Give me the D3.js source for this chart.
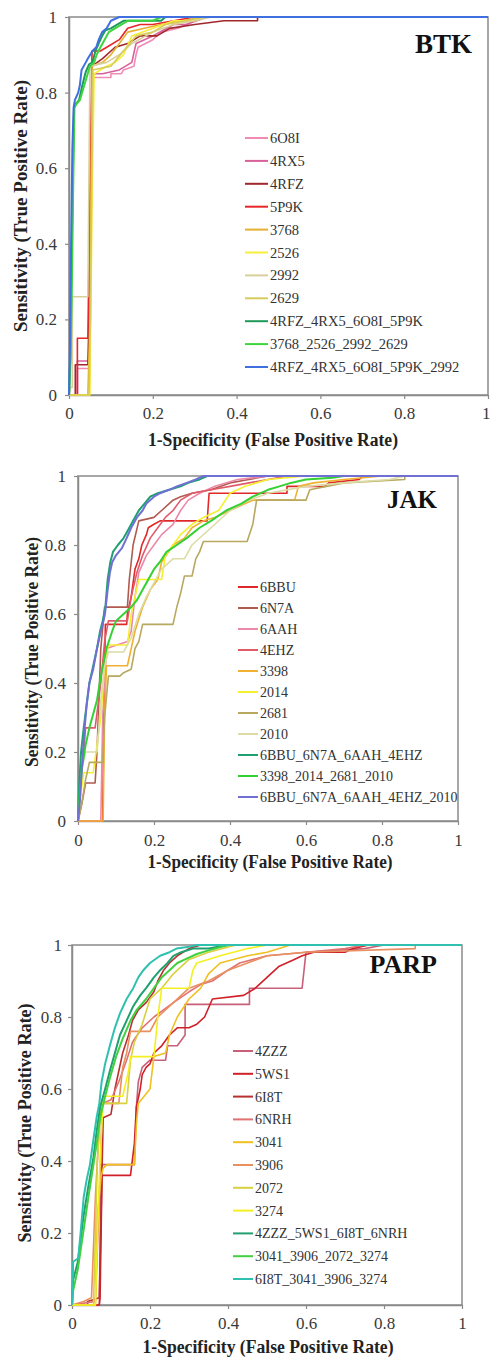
<!DOCTYPE html>
<html><head><meta charset="utf-8">
<script src="https://cdn.jsdelivr.net/npm/d3@7"></script>
<style>
html,body{margin:0;padding:0;background:#fff;}
svg{display:block;}
text{font-family:"Liberation Serif","Times New Roman",serif;}
</style></head><body>
<svg id="chart" width="490" height="1357"></svg>
<script>
// ---------- tick labels ----------
const tickValues = [0, 0.2, 0.4, 0.6, 0.8, 1];
const tickLabels = ["0", "0.2", "0.4", "0.6", "0.8", "1"];
const xTitle = "1-Specificity (False Positive Rate)";
const yTitle = "Sensitivity (True Positive Rate)";

// ---------- BTK ----------
const btkNames = ["6O8I","4RX5","4RFZ","5P9K","3768","2526","2992","2629","4RFZ_4RX5_6O8I_5P9K","3768_2526_2992_2629","4RFZ_4RX5_6O8I_5P9K_2992"];
const btkColors = ["#f08cb4","#d9609a","#a0282d","#e8262a","#e6b030","#f8ee3a","#d8d09a","#d6cc5a","#1e9a5a","#3ed43e","#4070e0"];
const btk_6O8I = [[0,0],[0.02,0],[0.02,0.07],[0.05,0.07],[0.055,0.84],[0.1,0.84],[0.1,0.85],[0.125,0.85],[0.13,0.86],[0.155,0.87],[0.16,0.9],[0.165,0.92],[0.2,0.94],[0.22,0.96],[0.26,0.97],[0.3,0.99],[0.32,1],[1,1]];
const btk_4RX5 = [[0,0],[0.02,0],[0.02,0.09],[0.05,0.09],[0.056,0.85],[0.08,0.85],[0.12,0.86],[0.15,0.88],[0.16,0.93],[0.2,0.95],[0.25,0.98],[0.28,0.98],[0.33,1],[1,1]];
const btk_4RFZ = [[0,0],[0.015,0],[0.015,0.08],[0.045,0.08],[0.05,0.3],[0.055,0.87],[0.08,0.89],[0.11,0.92],[0.14,0.93],[0.17,0.95],[0.21,0.95],[0.24,0.97],[0.3,0.98],[0.37,0.99],[0.45,0.99],[0.45,1],[1,1]];
const btk_5P9K = [[0,0],[0.02,0],[0.02,0.15],[0.045,0.15],[0.055,0.91],[0.075,0.91],[0.09,0.92],[0.12,0.94],[0.14,0.97],[0.17,0.98],[0.2,0.98],[0.25,0.99],[0.3,1],[1,1]];
const btk_3768 = [[0,0],[0.045,0],[0.05,0.2],[0.055,0.87],[0.08,0.88],[0.1,0.9],[0.12,0.93],[0.14,0.96],[0.18,0.97],[0.22,0.98],[0.27,0.99],[0.32,1],[1,1]];
const btk_2526 = [[0,0],[0.05,0],[0.055,0.5],[0.06,0.85],[0.09,0.87],[0.11,0.88],[0.13,0.9],[0.15,0.95],[0.2,0.97],[0.25,0.99],[0.3,0.99],[0.33,1],[1,1]];
const btk_2992 = [[0,0],[0.003,0.02],[0.008,0.02],[0.008,0.26],[0.045,0.26],[0.05,0.87],[0.09,0.88],[0.12,0.9],[0.15,0.93],[0.2,0.96],[0.25,0.98],[0.3,0.99],[0.34,1],[1,1]];
const btk_2629 = [[0,0],[0.048,0],[0.052,0.3],[0.057,0.86],[0.1,0.87],[0.13,0.91],[0.16,0.95],[0.2,0.96],[0.23,0.98],[0.28,0.99],[0.32,1],[1,1]];
const btk_comb4a = [[0,0],[0.003,0.1],[0.005,0.25],[0.008,0.5],[0.012,0.76],[0.016,0.77],[0.024,0.78],[0.032,0.82],[0.04,0.855],[0.048,0.875],[0.056,0.88],[0.063,0.91],[0.071,0.93],[0.079,0.95],[0.087,0.965],[0.1,0.97],[0.13,0.99],[0.22,0.99],[0.23,1],[1,1]];
const btk_comb4b = [[0,0],[0.004,0.1],[0.007,0.3],[0.01,0.55],[0.013,0.76],[0.018,0.77],[0.026,0.78],[0.034,0.81],[0.042,0.84],[0.05,0.87],[0.06,0.88],[0.066,0.9],[0.075,0.92],[0.085,0.94],[0.095,0.96],[0.11,0.97],[0.14,0.99],[0.2,0.99],[0.22,1],[1,1]];
const btk_comb5 = [[0,0],[0.002,0.1],[0.005,0.4],[0.008,0.65],[0.011,0.76],[0.014,0.78],[0.022,0.8],[0.026,0.82],[0.03,0.86],[0.04,0.88],[0.045,0.89],[0.056,0.91],[0.065,0.92],[0.071,0.94],[0.079,0.96],[0.09,0.97],[0.1,0.99],[0.12,1],[1,1]];
const btkSeries = [btk_6O8I,btk_4RX5,btk_4RFZ,btk_5P9K,btk_3768,btk_2526,btk_2992,btk_2629,btk_comb4a,btk_comb4b,btk_comb5];

// ---------- JAK ----------
const jakNames = ["6BBU","6N7A","6AAH","4EHZ","3398","2014","2681","2010","6BBU_6N7A_6AAH_4EHZ","3398_2014_2681_2010","6BBU_6N7A_6AAH_4EHZ_2010"];
const jakColors = ["#e02828","#b05a50","#ec88a8","#e05a6a","#f0b030","#f4f030","#b8a860","#dcdca4","#20a070","#34d034","#7070d4"];
const jak_6BBU = [[0,0],[0.065,0],[0.068,0.3],[0.072,0.57],[0.128,0.57],[0.13,0.6],[0.14,0.65],[0.15,0.73],[0.16,0.76],[0.168,0.8],[0.18,0.83],[0.185,0.85],[0.2,0.86],[0.216,0.87],[0.34,0.87],[0.345,0.95],[0.55,0.95],[0.55,0.97],[0.65,0.97],[0.66,0.98],[0.74,0.99],[0.75,1],[1,1]];
const jak_6N7A = [[0,0],[0.01,0.05],[0.02,0.11],[0.045,0.11],[0.05,0.2],[0.06,0.5],[0.07,0.62],[0.13,0.62],[0.135,0.7],[0.145,0.8],[0.16,0.87],[0.2,0.88],[0.22,0.9],[0.25,0.93],[0.27,0.94],[0.3,0.95],[0.35,0.96],[0.4,0.98],[0.45,0.99],[0.5,1],[1,1]];
const jak_6AAH = [[0,0],[0.06,0],[0.065,0.3],[0.075,0.5],[0.13,0.52],[0.14,0.55],[0.15,0.65],[0.16,0.72],[0.18,0.77],[0.2,0.8],[0.22,0.83],[0.25,0.86],[0.27,0.9],[0.29,0.93],[0.32,0.95],[0.36,0.97],[0.42,0.99],[0.5,1],[1,1]];
const jak_4EHZ = [[0,0],[0.005,0.1],[0.015,0.2],[0.02,0.27],[0.045,0.27],[0.06,0.4],[0.07,0.52],[0.08,0.58],[0.13,0.58],[0.14,0.65],[0.155,0.72],[0.17,0.77],[0.19,0.82],[0.21,0.85],[0.23,0.88],[0.25,0.9],[0.27,0.93],[0.3,0.95],[0.35,0.96],[0.4,0.97],[0.45,0.98],[0.5,0.99],[0.55,1],[1,1]];
const jak_3398 = [[0,0],[0.066,0],[0.07,0.3],[0.075,0.45],[0.13,0.45],[0.14,0.5],[0.15,0.55],[0.17,0.62],[0.19,0.67],[0.21,0.7],[0.22,0.75],[0.25,0.8],[0.28,0.82],[0.3,0.85],[0.33,0.87],[0.36,0.88],[0.4,0.9],[0.44,0.92],[0.46,0.93],[0.57,0.93],[0.58,0.97],[0.62,0.98],[0.7,0.99],[0.8,1],[1,1]];
const jak_2014 = [[0,0],[0.01,0.1],[0.015,0.14],[0.04,0.14],[0.06,0.3],[0.07,0.45],[0.08,0.51],[0.13,0.51],[0.14,0.6],[0.16,0.7],[0.22,0.7],[0.23,0.77],[0.25,0.8],[0.27,0.83],[0.3,0.86],[0.33,0.88],[0.37,0.9],[0.4,0.95],[0.44,0.97],[0.5,0.99],[0.6,1],[1,1]];
const jak_2681 = [[0,0],[0.01,0.05],[0.02,0.12],[0.03,0.17],[0.065,0.17],[0.07,0.3],[0.08,0.42],[0.11,0.42],[0.12,0.43],[0.14,0.44],[0.15,0.5],[0.16,0.52],[0.17,0.57],[0.25,0.57],[0.26,0.62],[0.27,0.66],[0.28,0.71],[0.3,0.71],[0.31,0.76],[0.32,0.78],[0.33,0.81],[0.445,0.81],[0.46,0.86],[0.47,0.93],[0.6,0.93],[0.61,0.96],[0.7,0.98],[0.86,0.99],[0.86,1],[1,1]];
const jak_2010 = [[0,0],[0.01,0.15],[0.02,0.2],[0.05,0.2],[0.06,0.35],[0.07,0.45],[0.08,0.49],[0.12,0.49],[0.14,0.53],[0.16,0.6],[0.18,0.65],[0.22,0.73],[0.25,0.76],[0.28,0.76],[0.3,0.8],[0.35,0.85],[0.4,0.9],[0.45,0.93],[0.5,0.95],[0.6,0.97],[0.7,0.98],[0.82,0.99],[0.86,1],[1,1]];
const jak_comb4a = [[0,0],[0.003,0.1],[0.008,0.2],[0.015,0.27],[0.022,0.33],[0.03,0.4],[0.04,0.45],[0.05,0.5],[0.058,0.55],[0.065,0.58],[0.072,0.62],[0.078,0.7],[0.085,0.75],[0.092,0.78],[0.105,0.8],[0.12,0.82],[0.13,0.84],[0.145,0.87],[0.16,0.9],[0.175,0.92],[0.19,0.94],[0.21,0.95],[0.24,0.96],[0.27,0.97],[0.29,0.98],[0.32,0.99],[0.34,1],[1,1]];
const jak_comb4b = [[0,0],[0.005,0.08],[0.01,0.15],[0.02,0.22],[0.03,0.27],[0.04,0.31],[0.05,0.35],[0.06,0.42],[0.075,0.5],[0.09,0.55],[0.1,0.58],[0.12,0.6],[0.14,0.62],[0.155,0.64],[0.17,0.67],[0.185,0.7],[0.2,0.73],[0.215,0.75],[0.233,0.78],[0.26,0.8],[0.286,0.82],[0.32,0.85],[0.35,0.87],[0.39,0.9],[0.43,0.92],[0.46,0.94],[0.5,0.96],[0.53,0.97],[0.56,0.98],[0.6,0.99],[0.67,0.995],[0.7,1],[1,1]];
const jak_comb5 = [[0,0],[0.005,0.06],[0.01,0.15],[0.016,0.25],[0.023,0.34],[0.03,0.4],[0.04,0.44],[0.05,0.5],[0.058,0.54],[0.065,0.57],[0.071,0.6],[0.078,0.67],[0.084,0.72],[0.09,0.75],[0.1,0.77],[0.115,0.79],[0.128,0.82],[0.14,0.85],[0.155,0.88],[0.17,0.9],[0.18,0.92],[0.2,0.94],[0.216,0.95],[0.24,0.96],[0.26,0.97],[0.286,0.98],[0.31,0.99],[0.33,1],[1,1]];
const jakSeries = [jak_6BBU,jak_6N7A,jak_6AAH,jak_4EHZ,jak_3398,jak_2014,jak_2681,jak_2010,jak_comb4a,jak_comb4b,jak_comb5];

// ---------- PARP ----------
const parpNames = ["4ZZZ","5WS1","6I8T","6NRH","3041","3906","2072","3274","4ZZZ_5WS1_6I8T_6NRH","3041_3906_2072_3274","6I8T_3041_3906_3274"];
const parpColors = ["#c8607a","#d0202a","#b83030","#e07272","#f0c020","#e89060","#d8d040","#f4f020","#20a070","#40d040","#30c0b0"];
const parp_4ZZZ = [[0,0],[0.07,0],[0.075,0.39],[0.16,0.39],[0.165,0.55],[0.17,0.62],[0.18,0.66],[0.2,0.68],[0.24,0.68],[0.245,0.72],[0.27,0.72],[0.29,0.75],[0.29,0.835],[0.455,0.835],[0.455,0.88],[0.59,0.88],[0.6,0.98],[0.75,0.99],[0.8,1],[1,1]];
const parp_5WS1 = [[0,0],[0.07,0],[0.072,0.02],[0.077,0.36],[0.15,0.36],[0.16,0.45],[0.165,0.55],[0.175,0.6],[0.18,0.64],[0.19,0.66],[0.2,0.67],[0.21,0.7],[0.23,0.72],[0.25,0.75],[0.27,0.77],[0.3,0.77],[0.32,0.78],[0.34,0.8],[0.36,0.85],[0.44,0.86],[0.47,0.88],[0.5,0.91],[0.53,0.94],[0.57,0.96],[0.59,0.97],[0.62,0.98],[0.7,0.98],[0.72,0.99],[0.76,1],[1,1]];
const parp_6I8T = [[0,0],[0.04,0],[0.04,0.01],[0.07,0.02],[0.08,0.52],[0.1,0.53],[0.11,0.6],[0.12,0.65],[0.13,0.7],[0.145,0.75],[0.155,0.79],[0.17,0.82],[0.19,0.84],[0.21,0.87],[0.22,0.9],[0.235,0.93],[0.25,0.95],[0.27,0.97],[0.3,0.99],[0.33,1],[1,1]];
const parp_6NRH = [[0,0],[0.06,0.01],[0.07,0.3],[0.078,0.56],[0.1,0.57],[0.12,0.62],[0.14,0.68],[0.155,0.73],[0.18,0.77],[0.21,0.8],[0.26,0.84],[0.3,0.87],[0.33,0.89],[0.36,0.9],[0.4,0.93],[0.43,0.95],[0.5,0.97],[0.6,0.98],[0.7,0.99],[0.75,1],[1,1]];
const parp_3041 = [[0,0],[0.06,0],[0.065,0.25],[0.075,0.36],[0.08,0.38],[0.09,0.39],[0.16,0.39],[0.165,0.5],[0.17,0.56],[0.2,0.6],[0.21,0.69],[0.24,0.7],[0.25,0.75],[0.27,0.8],[0.3,0.85],[0.33,0.88],[0.35,0.92],[0.38,0.95],[0.45,0.97],[0.5,0.98],[0.56,1],[1,1]];
const parp_3906 = [[0,0],[0.03,0.01],[0.05,0.02],[0.06,0.3],[0.07,0.5],[0.075,0.56],[0.12,0.56],[0.13,0.66],[0.14,0.7],[0.15,0.76],[0.2,0.76],[0.22,0.8],[0.26,0.84],[0.3,0.88],[0.35,0.9],[0.4,0.93],[0.45,0.95],[0.5,0.97],[0.6,0.98],[0.88,0.99],[0.88,1],[1,1]];
const parp_2072 = [[0,0],[0.055,0],[0.065,0.4],[0.075,0.56],[0.14,0.56],[0.15,0.68],[0.16,0.73],[0.18,0.78],[0.2,0.85],[0.23,0.88],[0.26,0.92],[0.3,0.96],[0.35,0.98],[0.42,1],[1,1]];
const parp_3274 = [[0,0],[0.06,0],[0.07,0.35],[0.08,0.58],[0.13,0.58],[0.145,0.65],[0.15,0.69],[0.21,0.69],[0.22,0.8],[0.23,0.88],[0.3,0.88],[0.31,0.93],[0.32,0.95],[0.38,0.97],[0.45,0.99],[0.5,1],[1,1]];
const parp_comb4a = [[0,0],[0.003,0.07],[0.015,0.12],[0.03,0.25],[0.042,0.33],[0.055,0.41],[0.063,0.48],[0.072,0.55],[0.085,0.6],[0.097,0.65],[0.11,0.7],[0.123,0.75],[0.14,0.79],[0.157,0.83],[0.175,0.86],[0.19,0.88],[0.21,0.91],[0.226,0.93],[0.245,0.95],[0.26,0.97],[0.28,0.98],[0.31,0.99],[0.35,0.99],[0.4,1],[1,1]];
const parp_comb4b = [[0,0],[0.003,0.04],[0.015,0.1],[0.03,0.21],[0.042,0.3],[0.055,0.39],[0.065,0.46],[0.072,0.52],[0.085,0.58],[0.097,0.63],[0.113,0.69],[0.13,0.74],[0.15,0.79],[0.166,0.82],[0.19,0.85],[0.21,0.88],[0.23,0.91],[0.25,0.93],[0.27,0.95],[0.29,0.96],[0.32,0.975],[0.35,0.985],[0.4,1],[1,1]];
const parp_comb4c = [[0,0],[0.003,0.12],[0.016,0.13],[0.022,0.2],[0.03,0.3],[0.038,0.35],[0.046,0.39],[0.055,0.46],[0.063,0.52],[0.07,0.56],[0.076,0.62],[0.085,0.67],[0.097,0.72],[0.11,0.77],[0.123,0.81],[0.14,0.85],[0.157,0.88],[0.17,0.91],[0.183,0.93],[0.2,0.95],[0.226,0.97],[0.25,0.98],[0.268,0.99],[0.3,0.995],[0.32,1],[1,1]];
const parpSeries = [parp_4ZZZ,parp_5WS1,parp_6I8T,parp_6NRH,parp_3041,parp_3906,parp_2072,parp_3274,parp_comb4a,parp_comb4b,parp_comb4c];

// ---------- layout ----------
const panels = [
  {label:"BTK", names:btkNames, colors:btkColors, series:btkSeries,
   l:69, r:488, t:17, b:395, labelX:472, labelY:53, labelSize:27,
   legX:245, legLine:23, legY:138, legStep:22.9, legFont:14.5,
   yTitleX:21, yTitleY:206, yTitleLen:252, xTitleX:273, xTitleY:446, xTitleLen:250, yLabX:57, xPad:8, lastAnchorEnd:true},
  {label:"JAK", names:jakNames, colors:jakColors, series:jakSeries,
   l:78, r:458, t:476, b:821, labelX:437, labelY:508, labelSize:25,
   legX:238, legLine:20, legY:587, legStep:21, legFont:14,
   yTitleX:32, yTitleY:652, yTitleLen:230, xTitleX:270, xTitleY:868, xTitleLen:245, yLabX:66, xPad:9, lastAnchorEnd:false},
  {label:"PARP", names:parpNames, colors:parpColors, series:parpSeries,
   l:72, r:462, t:945, b:1305, labelX:437, labelY:973, labelSize:26,
   legX:233, legLine:20, legY:1051, legStep:22.8, legFont:14,
   yTitleX:25, yTitleY:1123, yTitleLen:239, xTitleX:268, xTitleY:1353, xTitleLen:251, yLabX:62, xPad:8, lastAnchorEnd:false}
];

const FONT = "'Liberation Serif','Times New Roman',serif";
const svg = d3.select("#chart");
svg.append("rect").attr("width",490).attr("height",1357).attr("fill","#fff");

panels.forEach(p => {
  const x = d3.scaleLinear().domain([0,1]).range([p.l, p.r]);
  const y = d3.scaleLinear().domain([0,1]).range([p.b, p.t]);
  const g = svg.append("g");

  // frame
  g.append("rect").attr("x",p.l).attr("y",p.t).attr("width",p.r-p.l).attr("height",p.b-p.t)
    .attr("fill","none").attr("stroke","#8a8a8a").attr("stroke-width",1.5);

  // axes
  const xAxis = d3.axisBottom(x).tickValues(tickValues).tickFormat((d,i)=>tickLabels[i]).tickSizeInner(4).tickSizeOuter(0).tickPadding(p.xPad);
  const yAxis = d3.axisLeft(y).tickValues(tickValues).tickFormat((d,i)=>tickLabels[i]).tickSizeInner(4).tickSizeOuter(0).tickPadding(p.l - p.yLabX - 4);
  const gx = g.append("g").attr("transform",`translate(0,${p.b})`).call(xAxis);
  const gy = g.append("g").attr("transform",`translate(${p.l},0)`).call(yAxis);
  [gx,gy].forEach(a=>{
    a.attr("font-family",FONT);
    a.select(".domain").attr("stroke","#8a8a8a").attr("stroke-width",1.5);
    a.selectAll(".tick line").attr("stroke","#8a8a8a").attr("stroke-width",1.2);
    a.selectAll(".tick text").attr("font-family",FONT)
      .attr("font-size",17).attr("fill","#3a3a3a");
  });
  if (p.lastAnchorEnd) {
    gx.selectAll(".tick text").filter(d=>d===1).attr("text-anchor","end").attr("dx","2");
  }

  // curves
  const line = d3.line().x(d=>x(d[0])).y(d=>y(d[1]));
  const cg = g.append("g");
  p.series.forEach((s,i)=>{
    cg.append("path").datum(s).attr("d",line).attr("fill","none")
      .attr("stroke",p.colors[i]).attr("stroke-width", i>=8 ? 2 : 1.6)
      .attr("stroke-linejoin","round");
  });

  // panel label
  g.append("text").attr("x",p.labelX).attr("y",p.labelY).attr("text-anchor","end")
    .attr("font-family",FONT).attr("font-size",p.labelSize).attr("font-weight","bold").attr("fill","#111").text(p.label);

  // legend
  p.names.forEach((n,i)=>{
    const yy = p.legY + i*p.legStep;
    g.append("line").attr("x1",p.legX).attr("x2",p.legX+p.legLine).attr("y1",yy).attr("y2",yy)
      .attr("stroke",p.colors[i]).attr("stroke-width",2);
    g.append("text").attr("x",p.legX+p.legLine+2).attr("y",yy+5)
      .attr("font-family",FONT).attr("font-size",p.legFont).attr("fill","#333").text(n);
  });

  // axis titles
  g.append("text").attr("x",p.xTitleX).attr("y",p.xTitleY).attr("text-anchor","middle")
    .attr("font-family",FONT).attr("font-size",18).attr("font-weight","bold").attr("fill","#222")
    .attr("textLength",p.xTitleLen).attr("lengthAdjust","spacingAndGlyphs").text(xTitle);
  g.append("text").attr("transform",`translate(${p.yTitleX},${p.yTitleY}) rotate(-90)`)
    .attr("text-anchor","middle").attr("dy","0.35em")
    .attr("font-family",FONT).attr("font-size",18).attr("font-weight","bold").attr("fill","#222")
    .attr("textLength",p.yTitleLen).attr("lengthAdjust","spacingAndGlyphs").text(yTitle);
});
</script>
</body></html>
